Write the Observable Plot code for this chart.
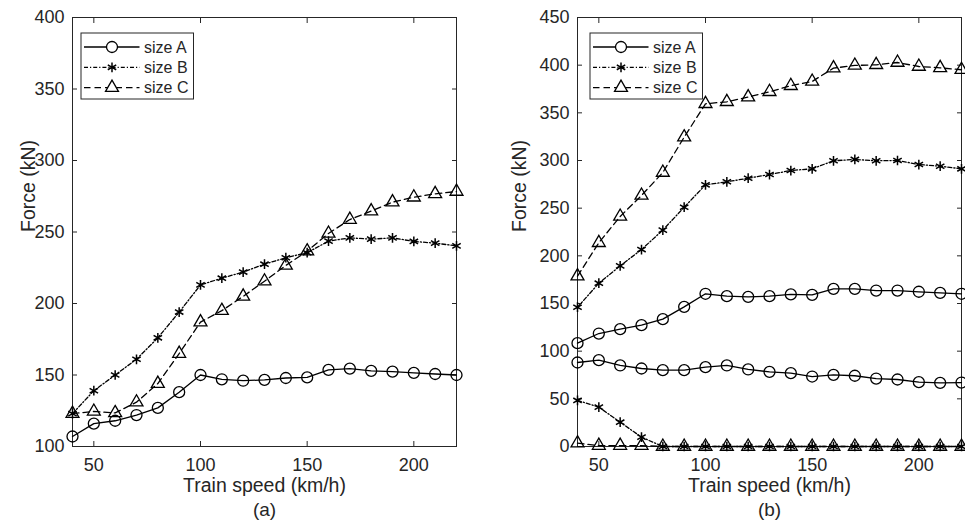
<!DOCTYPE html>
<html>
<head>
<meta charset="utf-8">
<script src="https://cdn.jsdelivr.net/npm/d3@7"></script>
<script src="https://cdn.jsdelivr.net/npm/@observablehq/plot@0.6"></script>
<style>
  html, body { margin: 0; padding: 0; background: #fff; }
  #wrap { position: relative; width: 965px; height: 525px; overflow: hidden; background: #fff; }
  .panel { position: absolute; top: 0; }
</style>
</head>
<body>
<div id="wrap">
  <div id="pa" class="panel" style="left:0px"></div>
  <div id="pb" class="panel" style="left:482px"></div>
</div>
<script>
// ---------- data ----------
const speeds = [40, 50, 60, 70, 80, 90, 100, 110, 120, 130, 140, 150, 160, 170, 180, 190, 200, 210, 220];

// panel (a)
const aSizeA = [107, 116, 118, 122, 127, 138, 150, 147, 146, 146.6, 147.9, 148.3, 153.6, 154.5, 152.9, 152.4, 151.5, 150.7, 150];
const aSizeB = [123, 139, 150, 161, 176, 194, 213, 217.7, 222, 227.5, 232, 235.5, 243.6, 245.9, 245, 245.9, 243.4, 242.2, 240.3];
const aSizeC = [123, 124.5, 123.5, 131, 144, 165, 187, 195, 205, 215.6, 226.6, 236.6, 249, 258.7, 264.6, 270.9, 274.3, 276.7, 278.3];

// panel (b): upper and lower curves
const bSizeAUpper = [108.4, 118.5, 123.1, 127.3, 133.6, 146.5, 160.2, 157.7, 157, 157.7, 159.5, 159.1, 165.4, 165.4, 163.6, 163.6, 162.3, 161.2, 160.2];
const bSizeALower = [88.1, 90.6, 85, 81.8, 80.1, 80.1, 83.2, 85, 80.8, 78.3, 76.9, 73.4, 75.2, 74.2, 71.3, 70.3, 67.5, 66.8, 67.1];
const bSizeBUpper = [146.1, 171.3, 189.5, 206.6, 227, 251, 274.5, 277.7, 281.4, 285.3, 289.5, 291.3, 299.7, 301.1, 299.7, 300, 295.8, 294, 291.3];
const bSizeBLower = [48.3, 41.3, 25.5, 9.8, 0, 0, 0, 0, 0, 0, 0, 0, 0, 0, 0, 0, 0, 0, 0];
const bSizeCUpper = [178.7, 213.7, 241.3, 263.3, 287.4, 324.5, 359.5, 361.6, 366.5, 372.1, 378.4, 382.9, 396.9, 399.7, 400.4, 402.8, 398.6, 397.2, 395.2];
const bSizeCLower = [3.5, 1, 1, 1, 0, 0, 0, 0, 0, 0, 0, 0, 0, 0, 0, 0, 0, 0, 0];

const seriesNames = ["size A", "size B", "size C"];
const xTicks = [50, 100, 150, 200];
const yTicksA = [100, 150, 200, 250, 300, 350, 400];
const yTicksB = [0, 50, 100, 150, 200, 250, 300, 350, 400, 450];
const xLabel = "Train speed (km/h)";
const yLabel = "Force (kN)";
const captions = ["(a)", "(b)"];

// ---------- styles ----------
const ink = "#262626";
const font = "'Liberation Sans', Arial, Helvetica, sans-serif";
const styleOf = {
  "size A": {dash: null, symbol: "circle", r: 5.5},
  "size B": {dash: "4,2,1.2,2", symbol: "asterisk", r: 4.6},
  "size C": {dash: "6.5,4", symbol: "triangle", r: 4.8}
};

function rows(series, name, curve) {
  return speeds.map((s, i) => ({speed: s, force: series[i], name, curve}));
}

function seriesMarks(data) {
  const out = [];
  for (const name of seriesNames) {
    const st = styleOf[name];
    const d = data.filter(r => r.name === name);
    out.push(Plot.line(d, {x: "speed", y: "force", z: "curve", stroke: "black", strokeWidth: 1.3,
      strokeDasharray: st.dash, curve: "linear"}));
    out.push(Plot.dot(d, {x: "speed", y: "force", symbol: () => st.symbol, r: st.r, stroke: "black",
      fill: "none", strokeWidth: st.symbol === "asterisk" ? 1.5 : 1.3}));
  }
  return out;
}

function frameMarks(yTicks, yLabelDx, caption) {
  return [
    Plot.frame({stroke: ink, strokeWidth: 1}),
    Plot.axisY(yTicks, {anchor: "left", tickSize: 0, tickPadding: 8, label: null, fontSize: 18, fill: ink}),
    Plot.axisX(xTicks, {anchor: "bottom", tickSize: 0, tickPadding: 12, label: null, fontSize: 18, fill: ink}),
    Plot.axisY(yTicks, {anchor: "left", tickSize: 5, dx: 5, fill: "none", stroke: ink, label: null}),
    Plot.axisY(yTicks, {anchor: "right", tickSize: 5, dx: -5, fill: "none", stroke: ink, label: null}),
    Plot.axisX(xTicks, {anchor: "bottom", tickSize: 5, dy: -5, fill: "none", stroke: ink, label: null}),
    Plot.axisX(xTicks, {anchor: "top", tickSize: 5, dy: 5, fill: "none", stroke: ink, label: null}),
    Plot.text([xLabel], {text: d => d, frameAnchor: "bottom", dy: 45, fontSize: 19.5, fill: ink}),
    Plot.text([caption], {text: d => d, frameAnchor: "bottom", dy: 69, fontSize: 19, fill: ink}),
    Plot.text([yLabel], {text: d => d, frameAnchor: "left", dx: yLabelDx, rotate: -90, fontSize: 19.5, fill: ink})
  ];
}

function addLegend(svg, left, top) {
  const g = d3.select(svg).append("g").attr("transform", `translate(${left},${top})`);
  g.append("rect").attr("width", 112.5).attr("height", 66)
    .attr("fill", "white").attr("stroke", ink).attr("stroke-width", 1);
  seriesNames.forEach((name, i) => {
    const st = styleOf[name];
    const y = 14 + i * 20.3;
    g.append("line").attr("x1", 3).attr("x2", 58.5).attr("y1", y).attr("y2", y)
      .attr("stroke", "black").attr("stroke-width", 1.3)
      .attr("stroke-dasharray", st.dash);
    const sym = {circle: d3.symbolCircle, asterisk: d3.symbolAsterisk, triangle: d3.symbolTriangle}[st.symbol];
    g.append("path").attr("d", d3.symbol(sym, Math.PI * st.r * st.r)())
      .attr("transform", `translate(31,${y})`).attr("fill", st.symbol === "asterisk" ? "none" : "white")
      .attr("stroke", "black").attr("stroke-width", st.symbol === "asterisk" ? 1.5 : 1.3);
    g.append("text").attr("x", 63).attr("y", y).attr("dy", "0.35em")
      .attr("text-anchor", "start")
      .attr("font-size", 16).attr("font-family", font).attr("fill", ink).text(name);
  });
}

// ---------- panel (a) ----------
const dataA = [
  ...rows(aSizeA, "size A", "A"),
  ...rows(aSizeB, "size B", "B"),
  ...rows(aSizeC, "size C", "C")
];
const plotA = Plot.plot({
  width: 482, height: 525,
  marginLeft: 72, marginRight: 26, marginTop: 17, marginBottom: 79,
  x: {domain: [40, 220]},
  y: {domain: [100, 400]},
  style: {fontFamily: font, fontSize: "18px", color: ink, background: "white", overflow: "visible"},
  marks: [...frameMarks(yTicksA, -44, captions[0]), ...seriesMarks(dataA)]
});
document.getElementById("pa").appendChild(plotA);
addLegend(plotA, 81, 33);

// ---------- panel (b) ----------
const dataB = [
  ...rows(bSizeAUpper, "size A", "A-up"),
  ...rows(bSizeALower, "size A", "A-lo"),
  ...rows(bSizeBUpper, "size B", "B-up"),
  ...rows(bSizeBLower, "size B", "B-lo"),
  ...rows(bSizeCUpper, "size C", "C-up"),
  ...rows(bSizeCLower, "size C", "C-lo")
];
const plotB = Plot.plot({
  width: 483, height: 525,
  marginLeft: 95, marginRight: 4, marginTop: 17, marginBottom: 79,
  x: {domain: [40, 220]},
  y: {domain: [0, 450]},
  style: {fontFamily: font, fontSize: "18px", color: ink, background: "white", overflow: "visible"},
  marks: [...frameMarks(yTicksB, -58, captions[1]), ...seriesMarks(dataB)]
});
document.getElementById("pb").appendChild(plotB);
addLegend(plotB, 108, 33);
</script>
</body>
</html>
